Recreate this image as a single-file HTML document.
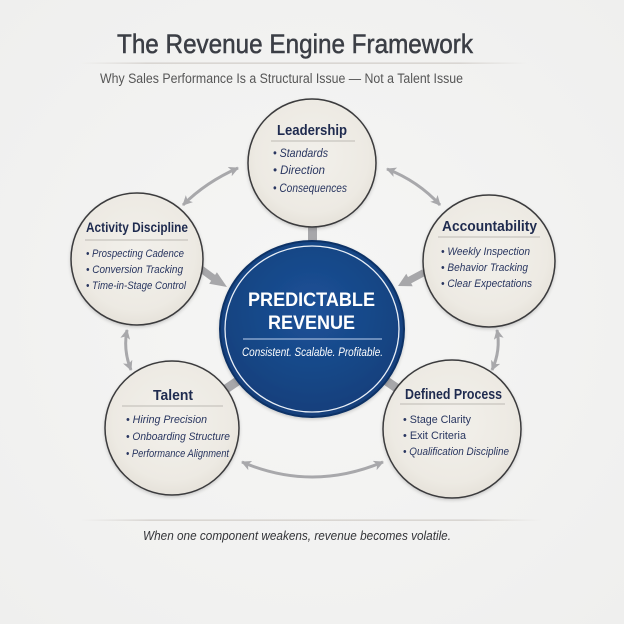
<!DOCTYPE html>
<html>
<head>
<meta charset="utf-8">
<style>
  html, body { margin: 0; padding: 0; background: #f2f2f2; }
  svg { display: block; }
  text { font-family: "Liberation Sans", "DejaVu Sans", sans-serif; }
</style>
</head>
<body>
<svg width="624" height="624" viewBox="0 0 624 624" xmlns="http://www.w3.org/2000/svg">
  <defs>
    <radialGradient id="bg" cx="50%" cy="50%" r="70%">
      <stop offset="0%" stop-color="#f6f6f5"/>
      <stop offset="100%" stop-color="#efefee"/>
    </radialGradient>
    <radialGradient id="node" cx="50%" cy="45%" r="55%">
      <stop offset="0%" stop-color="#f2f0eb"/>
      <stop offset="80%" stop-color="#edeae3"/>
      <stop offset="100%" stop-color="#e6e2da"/>
    </radialGradient>
    <radialGradient id="core" cx="50%" cy="40%" r="60%">
      <stop offset="0%" stop-color="#1c5298"/>
      <stop offset="100%" stop-color="#143f7b"/>
    </radialGradient>
    <linearGradient id="rule" x1="0" x2="1" y1="0" y2="0">
      <stop offset="0%" stop-color="#d6d3cf" stop-opacity="0"/>
      <stop offset="15%" stop-color="#d3cfcb"/>
      <stop offset="85%" stop-color="#d3cfcb"/>
      <stop offset="100%" stop-color="#d6d3cf" stop-opacity="0"/>
    </linearGradient>
    <marker id="ah" viewBox="0 0 10 10" refX="9" refY="5" markerWidth="10" markerHeight="10" markerUnits="userSpaceOnUse" orient="auto-start-reverse">
      <path d="M0,0 L10,5 L0,10 L2.5,5 z" fill="#a8a8ab"/>
    </marker>
    <filter id="sh" x="-20%" y="-20%" width="140%" height="140%">
      <feDropShadow dx="0" dy="1.5" stdDeviation="1.5" flood-color="#000" flood-opacity="0.18"/>
    </filter>
  </defs>

  <rect x="0" y="0" width="624" height="624" fill="url(#bg)"/>

  <!-- Header -->
  <text x="117" y="53" font-size="27" fill="#3b3e45" stroke="#3b3e45" stroke-width="0.5" textLength="356" lengthAdjust="spacingAndGlyphs">The Revenue Engine Framework</text>
  <rect x="80" y="62.5" width="447" height="1.3" fill="url(#rule)"/>
  <text x="100" y="83" font-size="13.5" fill="#565656" textLength="363" lengthAdjust="spacingAndGlyphs">Why Sales Performance Is a Structural Issue — Not a Talent Issue</text>

  <!-- Stems -->
  <rect x="308" y="222" width="9" height="22" fill="#a7a7aa"/>
  <line x1="245" y1="376" x2="220" y2="393" stroke="#a7a7aa" stroke-width="9"/>
  <line x1="379" y1="376" x2="404" y2="393" stroke="#a7a7aa" stroke-width="9"/>

  <!-- Thick arrows into core -->
  <line x1="201" y1="269" x2="214" y2="278.5" stroke="#a7a7aa" stroke-width="7"/>
  <polygon points="227,287 209.2,283.8 216.9,272.2" fill="#a7a7aa"/>
  <line x1="424" y1="272.5" x2="409" y2="280.5" stroke="#a7a7aa" stroke-width="7"/>
  <polygon points="398,286 412.7,286.2 406.3,273.8" fill="#a7a7aa"/>

  <!-- Thin double arrows -->
  <g fill="none" stroke="#a8a8ab" stroke-width="3" marker-start="url(#ah)" marker-end="url(#ah)">
    <path d="M183,205 Q206,182 238,168"/>
    <path d="M387,169 Q418,181 440,205"/>
    <path d="M127,330 Q123,350 131,370"/>
    <path d="M497,330 Q501,350 492,370"/>
    <path d="M242,462 Q312,492 383,462"/>
  </g>

  <!-- Outer nodes -->
  <g fill="url(#node)" stroke="#3a3a3c" stroke-width="1.5" filter="url(#sh)">
    <circle cx="312" cy="163" r="64"/>
    <circle cx="137" cy="259" r="66"/>
    <circle cx="489" cy="261" r="66"/>
    <circle cx="172" cy="428" r="67"/>
    <circle cx="452" cy="429" r="69"/>
  </g>

  <!-- Core -->
  <ellipse cx="312" cy="329" rx="92" ry="88" fill="url(#core)" stroke="#0e3266" stroke-width="2" filter="url(#sh)"/>
  <ellipse cx="312" cy="329" rx="87" ry="83" fill="none" stroke="#e9eff7" stroke-width="1.3"/>
  <text x="248" y="306" font-size="19" font-weight="bold" fill="#ffffff" textLength="127" lengthAdjust="spacingAndGlyphs">PREDICTABLE</text>
  <text x="268" y="329" font-size="19" font-weight="bold" fill="#ffffff" textLength="87" lengthAdjust="spacingAndGlyphs">REVENUE</text>
  <line x1="243" y1="339" x2="382" y2="339" stroke="#9cb6da" stroke-width="1.2"/>
  <text x="242" y="356" font-size="11.5" font-style="italic" fill="#ffffff" textLength="141" lengthAdjust="spacingAndGlyphs">Consistent. Scalable. Profitable.</text>

  <!-- Leadership -->
  <g fill="#1f2b4f">
    <text x="277" y="135" font-size="15" font-weight="bold" textLength="70" lengthAdjust="spacingAndGlyphs">Leadership</text>
    <line x1="271" y1="141" x2="355" y2="141" stroke="#bdbab4" stroke-width="1"/>
    <g font-size="12" font-style="italic" fill="#293660">
      <text x="273" y="157" textLength="55" lengthAdjust="spacingAndGlyphs">• Standards</text>
      <text x="273" y="174" textLength="52" lengthAdjust="spacingAndGlyphs">• Direction</text>
      <text x="273" y="192" textLength="74" lengthAdjust="spacingAndGlyphs">• Consequences</text>
    </g>
  </g>

  <!-- Activity Discipline -->
  <g fill="#1f2b4f">
    <text x="86" y="232" font-size="14" font-weight="bold" textLength="102" lengthAdjust="spacingAndGlyphs">Activity Discipline</text>
    <line x1="85" y1="240" x2="188" y2="240" stroke="#bdbab4" stroke-width="1"/>
    <g font-size="11" font-style="italic" fill="#293660">
      <text x="86" y="257" textLength="98" lengthAdjust="spacingAndGlyphs">• Prospecting Cadence</text>
      <text x="86" y="273" textLength="97" lengthAdjust="spacingAndGlyphs">• Conversion Tracking</text>
      <text x="86" y="289" textLength="100" lengthAdjust="spacingAndGlyphs">• Time-in-Stage Control</text>
    </g>
  </g>

  <!-- Accountability -->
  <g fill="#1f2b4f">
    <text x="442" y="231" font-size="15" font-weight="bold" textLength="95" lengthAdjust="spacingAndGlyphs">Accountability</text>
    <line x1="438" y1="237" x2="540" y2="237" stroke="#bdbab4" stroke-width="1"/>
    <g font-size="11" font-style="italic" fill="#293660">
      <text x="441" y="255" textLength="89" lengthAdjust="spacingAndGlyphs">• Weekly Inspection</text>
      <text x="441" y="271" textLength="87" lengthAdjust="spacingAndGlyphs">• Behavior Tracking</text>
      <text x="441" y="287" textLength="91" lengthAdjust="spacingAndGlyphs">• Clear Expectations</text>
    </g>
  </g>

  <!-- Talent -->
  <g fill="#1f2b4f">
    <text x="153" y="400" font-size="15" font-weight="bold" textLength="40" lengthAdjust="spacingAndGlyphs">Talent</text>
    <line x1="122" y1="406" x2="223" y2="406" stroke="#bdbab4" stroke-width="1"/>
    <g font-size="11" font-style="italic" fill="#293660">
      <text x="126" y="423" textLength="81" lengthAdjust="spacingAndGlyphs">• Hiring Precision</text>
      <text x="126" y="440" textLength="104" lengthAdjust="spacingAndGlyphs">• Onboarding Structure</text>
      <text x="126" y="457" textLength="103" lengthAdjust="spacingAndGlyphs">• Performance Alignment</text>
    </g>
  </g>

  <!-- Defined Process -->
  <g fill="#1f2b4f">
    <text x="405" y="399" font-size="15" font-weight="bold" textLength="97" lengthAdjust="spacingAndGlyphs">Defined Process</text>
    <line x1="400" y1="404" x2="505" y2="404" stroke="#bdbab4" stroke-width="1"/>
    <g font-size="11" fill="#293660">
      <text x="403" y="423" textLength="68" lengthAdjust="spacingAndGlyphs">• Stage Clarity</text>
      <text x="403" y="439" textLength="63" lengthAdjust="spacingAndGlyphs">• Exit Criteria</text>
      <text x="403" y="455" font-style="italic" textLength="106" lengthAdjust="spacingAndGlyphs">• Qualification Discipline</text>
    </g>
  </g>

  <!-- Footer -->
  <rect x="80" y="519.5" width="462" height="1.3" fill="url(#rule)"/>
  <text x="143" y="540" font-size="13" font-style="italic" fill="#333438" textLength="308" lengthAdjust="spacingAndGlyphs">When one component weakens, revenue becomes volatile.</text>
</svg>
</body>
</html>
